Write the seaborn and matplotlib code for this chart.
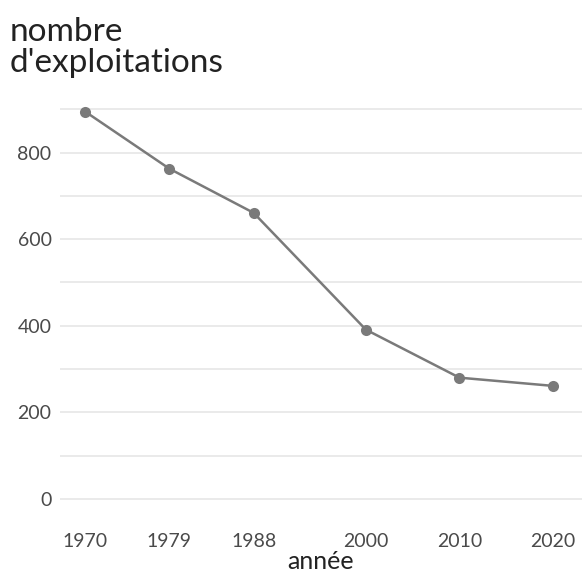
import numpy as np
import pandas as pd
import seaborn as sns
import matplotlib.pyplot as plt

years = [1970, 1979, 1988, 2000, 2010, 2020]
exploitations = [895, 763, 661, 391, 280, 261]

df = pd.DataFrame({"annee": years, "nombre": exploitations})

sns.set_theme(style="white")
plt.rcParams['font.family'] = ['Lato', 'DejaVu Sans']

fig = plt.figure(figsize=(5.82, 5.76), dpi=100)
ax = fig.add_axes([0.103, 0.104, 0.897, 0.721])

sns.lineplot(data=df, x="annee", y="nombre", ax=ax, color="#7a7a7a", linewidth=1.8,
             marker="o", markersize=8, markeredgewidth=0, zorder=3)

ax.set_xlim(1967.3, 2023.1)
ax.set_ylim(-40, 920)
ax.set_xticks(years)
ax.set_yticks([0, 200, 400, 600, 800])
ax.set_yticks(np.arange(100, 1000, 200), minor=True)
ax.grid(True, axis="y", which="both", color="#e6e6e6", linewidth=1.2)
ax.set_axisbelow(True)
for s in ax.spines.values():
    s.set_visible(False)
ax.tick_params(axis="both", which="both", length=0, labelsize=14, colors="#4a4a4a", pad=6)
ax.tick_params(axis="x", pad=12)

ax.set_xlabel("année", fontsize=18, color="#222222", labelpad=0)
ax.set_ylabel("")
fig.text(0.017, 0.97, "nombre\nd'exploitations", fontsize=24, color="#222222",
         ha="left", va="top", linespacing=1.05)

fig.savefig("out.png", dpi=100)
